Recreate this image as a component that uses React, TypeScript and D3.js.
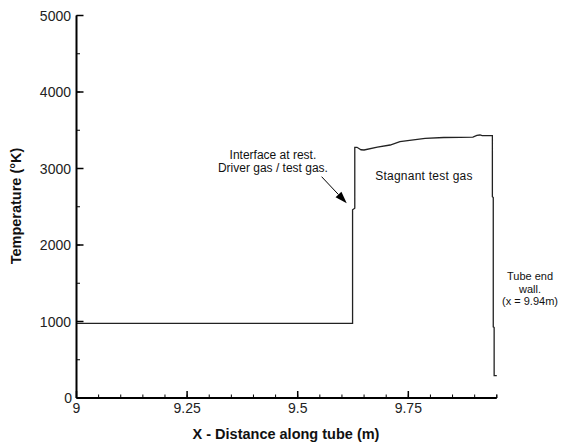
import React from "react";
import * as d3 from "d3";

const W = 562;
const H = 447;

// Temperature profile along tube: [x (m), T (°K)]
const profileX = [9.0, 9.624, 9.624, 9.629, 9.629, 9.634, 9.643, 9.65, 9.68, 9.709, 9.731, 9.788, 9.83, 9.867, 9.896, 9.905, 9.912, 9.917, 9.94, 9.94, 9.942, 9.942, 9.944, 9.944, 9.95];
const profileT = [976, 976, 2460, 2480, 3277, 3277, 3245, 3242, 3280, 3307, 3350, 3395, 3405, 3408, 3410, 3432, 3438, 3430, 3430, 2630, 2620, 930, 920, 292, 292];

const xTicks = [9, 9.25, 9.5, 9.75];
const xTickLabels = ["9", "9.25", "9.5", "9.75"];
const xMinorTicks = d3.range(0, 20).map((i) => 9 + i * 0.05);
const yTicks = [0, 1000, 2000, 3000, 4000, 5000];
const yMinorTicks = d3.range(0, 11).map((i) => i * 500);

const interfaceLines = ["Interface at rest.", "Driver gas / test gas."];
const wallLines = ["Tube end", "wall.", "(x = 9.94m)"];

export default function App() {
  const x = d3.scaleLinear().domain([9, 9.95]).range([76.5, 496.8]);
  const y = d3.scaleLinear().domain([0, 5000]).range([398, 15.5]);
  const pts: [number, number][] = profileX.map((v, i) => [v, profileT[i]]);
  const line = d3
    .line<[number, number]>()
    .x((d) => x(d[0]))
    .y((d) => y(d[1]));

  const font = "'Liberation Sans', Arial, Helvetica, sans-serif";
  const x0 = x(9);
  const y0 = y(0);

  // arrow in data coordinates
  const ax1 = x(9.554), ay1 = y(2893);
  const ax2 = x(9.6108), ay2 = y(2545);
  const ang = Math.atan2(ay2 - ay1, ax2 - ax1);
  const hl = 12, hw = 4;
  const bx = ax2 - hl * Math.cos(ang), by = ay2 - hl * Math.sin(ang);
  const head = `M${ax2},${ay2} L${bx + hw * Math.sin(ang)},${by - hw * Math.cos(ang)} L${bx - hw * Math.sin(ang)},${by + hw * Math.cos(ang)} Z`;

  return (
    <svg
      width={W}
      height={H}
      style={{ position: "absolute", left: 0, top: 0, background: "#fff" }}
      fontFamily={font}
    >
      <rect width={W} height={H} fill="#fff" />
      {/* data line */}
      <path d={line(pts) || ""} fill="none" stroke="#222" strokeWidth={1.3} />

      {/* axes */}
      <line x1={x0} x2={x(9.95)} y1={y0} y2={y0} stroke="#000" strokeWidth={2} />
      <line x1={x0} x2={x0} y1={y0} y2={y(5000)} stroke="#000" strokeWidth={2} />
      {xMinorTicks.map((t, i) => (
        <line key={"xm" + i} x1={x(t)} x2={x(t)} y1={y0} y2={y0 - 3.5} stroke="#000" strokeWidth={1} />
      ))}
      <line x1={x(9.95)} x2={x(9.95)} y1={y0} y2={y0 - 3.5} stroke="#000" strokeWidth={1} />
      {xTicks.map((t, i) => (
        <g key={"xt" + i}>
          <line x1={x(t)} x2={x(t)} y1={y0} y2={y0 - 7} stroke="#000" strokeWidth={1.5} />
          <text x={x(t)} y={413} textAnchor="middle" fontSize={14} fill="#222">
            {xTickLabels[i]}
          </text>
        </g>
      ))}
      {yMinorTicks.map((t, i) => (
        <line key={"ym" + i} x1={x0} x2={x0 + 3.5} y1={y(t)} y2={y(t)} stroke="#000" strokeWidth={1} />
      ))}
      {yTicks.map((t, i) => (
        <g key={"yt" + i}>
          <line x1={x0} x2={x0 + 7} y1={y(t)} y2={y(t)} stroke="#000" strokeWidth={1.5} />
          <text x={t === 0 ? 72 : 71} y={y(t) + 5} textAnchor="end" fontSize={14} fill="#222">
            {String(t)}
          </text>
        </g>
      ))}

      {/* axis titles */}
      <text x={286} y={439} textAnchor="middle" fontSize={14.5} fontWeight="bold" fill="#111">
        X - Distance along tube (m)
      </text>
      <text
        transform={`translate(21,206) rotate(-90)`}
        textAnchor="middle"
        fontSize={14.5}
        fontWeight="bold"
        fill="#111"
      >
        Temperature (°K)
      </text>

      {/* annotations */}
      {interfaceLines.map((s, i) => (
        <text key={"il" + i} x={x(9.444)} y={y(3124) + i * 13} textAnchor="middle" fontSize={12} fill="#111">
          {s}
        </text>
      ))}
      <line x1={ax1} y1={ay1} x2={bx} y2={by} stroke="#000" strokeWidth={1} />
      <path d={head} fill="#000" />
      <text x={x(9.675)} y={y(2850)} fontSize={12} fill="#111" letterSpacing={0.25}>
        Stagnant test gas
      </text>
      {wallLines.map((s, i) => (
        <text key={"wl" + i} x={530} y={280 + i * 12.5} textAnchor="middle" fontSize={11} fill="#111">
          {s}
        </text>
      ))}
    </svg>
  );
}
